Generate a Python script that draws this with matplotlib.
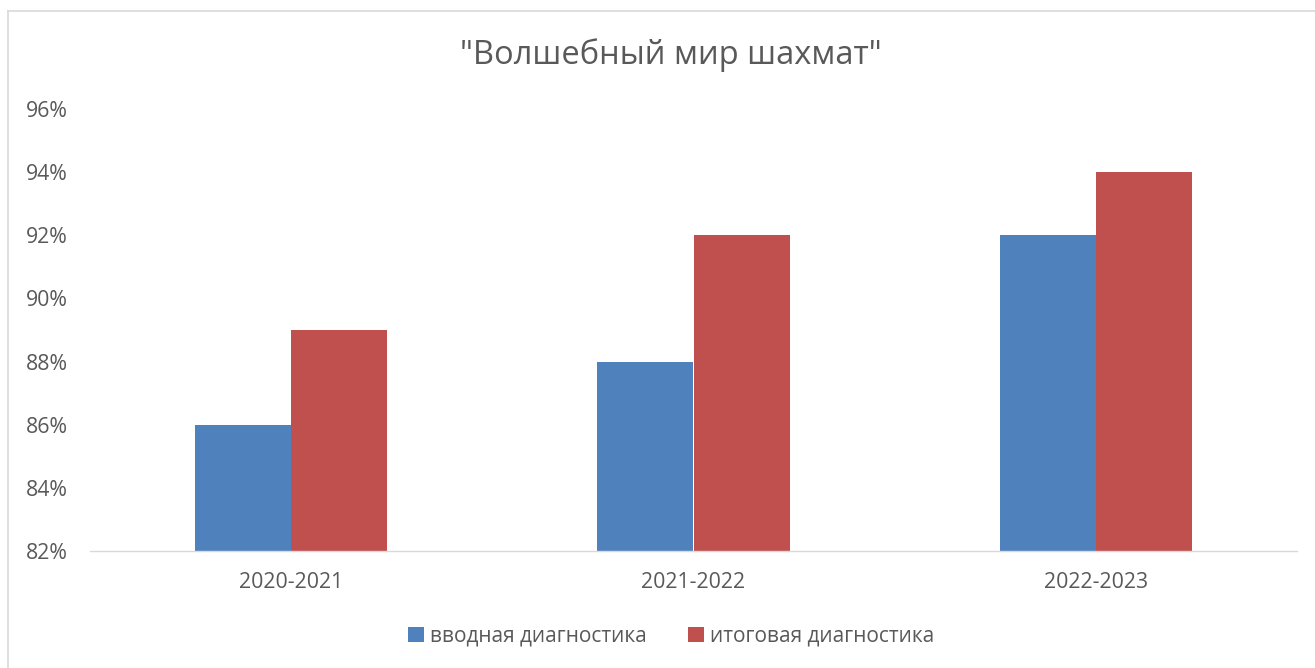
import matplotlib
matplotlib.use("Agg")
import matplotlib.pyplot as plt
import numpy as np
from matplotlib.lines import Line2D

categories = ["2020-2021", "2021-2022", "2022-2023"]
intro = [86, 88, 92]
final = [89, 92, 94]
yticks = [82, 84, 86, 88, 90, 92, 94, 96]
series_names = ["вводная диагностика", "итоговая диагностика"]

plt.rcParams['font.family'] = ['Open Sans', 'DejaVu Sans']
txt = '#595959'

W, H = 1315, 668
fig = plt.figure(figsize=(W/100, H/100), dpi=100)
ax = fig.add_axes([90/W, 1-551/H, (1297-90)/W, (551-109)/H])

x = np.arange(len(categories))
bw = 0.239
ax.bar(x - bw/2, intro, bw, color='#4F81BD', label=series_names[0])
ax.bar(x + bw/2, final, bw, color='#C0504D', label=series_names[1])

ax.set_xlim(-0.5, 2.5)
ax.set_ylim(82, 96)
ax.set_yticks(yticks)
ax.set_yticklabels([f"{v}%" for v in yticks])
ax.set_xticks(x)
ax.set_xticklabels(categories)
for s in ['top', 'right', 'left']:
    ax.spines[s].set_visible(False)
ax.spines['bottom'].set_color('#D9D9D9')
ax.spines['bottom'].set_linewidth(1)
ax.tick_params(length=0, colors=txt, labelsize=15.3)
ax.tick_params(axis='x', pad=15)
ax.tick_params(axis='y', pad=16)

fig.text(0.5105, 1-55/H, '"Волшебный мир шахмат"', ha='center', va='center', fontsize=23.5, color=txt)

fig.legend(loc='center', bbox_to_anchor=(0.5105, 1-636/H), ncol=2, frameon=False,
           fontsize=15, labelcolor=txt, handlelength=0.75, handleheight=0.75,
           handletextpad=0.3, columnspacing=2.0)

fig.add_artist(Line2D([8/W, 8/W], [0, 1-11/H], color='#D9D9D9', lw=1.2, transform=fig.transFigure))
fig.add_artist(Line2D([8/W, 1], [1-11/H, 1-11/H], color='#D9D9D9', lw=1.2, transform=fig.transFigure))

fig.savefig('out.png', dpi=100)
